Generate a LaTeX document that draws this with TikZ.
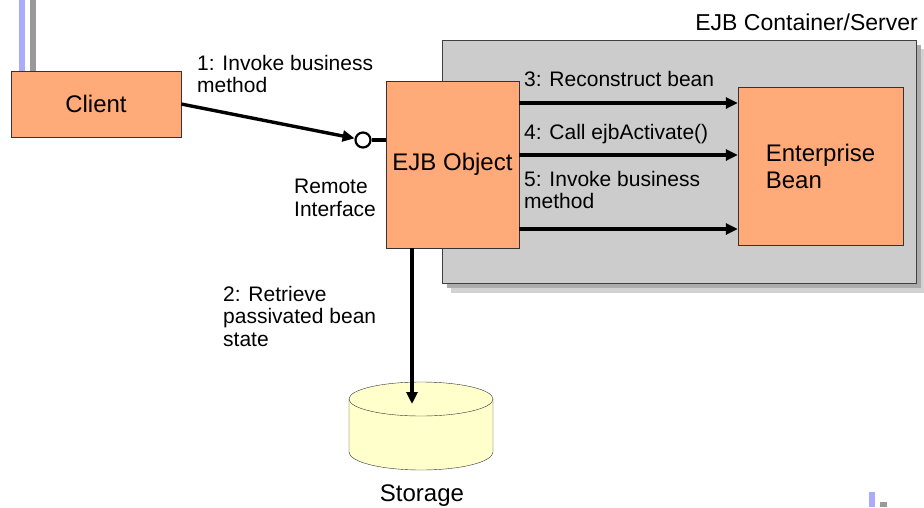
\documentclass[tikz,border=0pt]{standalone}
\usepackage{fontspec}
\setmainfont{Liberation Sans}
\usetikzlibrary{arrows.meta}
\definecolor{salmon}{RGB}{255,170,120}
\definecolor{cbox}{RGB}{204,204,204}
\definecolor{dbfill}{RGB}{255,255,204}
\definecolor{barblue}{RGB}{170,170,255}
\definecolor{bargray}{RGB}{153,153,153}
\tikzset{
  box/.style={draw=black!80,fill=salmon,font=\fontsize{24}{27}\selectfont,inner sep=0pt},
  lbl/.style={anchor=north west,inner sep=0pt,align=left,font=\fontsize{21}{22.5}\selectfont},
  arr/.style={line width=3.4pt,-{Triangle[length=12pt,width=11pt]}}
}
\begin{document}
\begin{tikzpicture}[x=1pt,y=-1pt]
            \useasboundingbox (0,0) rectangle (924,507);
            % slide marks
            \fill[barblue] (19,0) rectangle (25,71);
            \fill[bargray] (30,0) rectangle (36,71);
            \fill[barblue] (869,492) rectangle (875,507);
            \fill[bargray] (880,502) rectangle (887,507);
            % container with shadow
            \fill[gray!35] (451,49) rectangle (925,293);
            \fill[gray!65] (447,45) rectangle (921,288);
            \node[draw=black!75,fill=cbox,minimum width=474pt,minimum height=243pt,line width=1pt] (cont) at (679,161.5) {};
            \node[anchor=north east,inner sep=0pt,font=\fontsize{23}{26}\selectfont] (contlbl) at (918,14) {EJB Container/Server};
            % boxes
            \node[box,minimum width=170pt,minimum height=66pt] (client) at (96,104) {Client};
            \node[box,minimum width=133pt,minimum height=167pt] (ejbobj) at (452.5,164.5) {EJB Object};
            \node[box,minimum width=165pt,minimum height=158pt,align=left] (bean) at (820.5,166) {Enterprise\\Bean};
            % remote interface
            \node[circle,draw,fill=white,line width=2.2pt,minimum size=15pt,inner sep=0pt] (iface) at (363,140) {};
            \draw[line width=3.4pt] (iface) -- (iface -| ejbobj.west);
            \draw[arr] (client.east) -- (iface);
            % calls into the bean
            \draw[arr] (ejbobj.east |- 0,103) -- (bean.west |- 0,103);
            \draw[arr] (ejbobj.east |- 0,155) -- (bean.west |- 0,155);
            \draw[arr] (ejbobj.east |- 0,229) -- (bean.west |- 0,229);
            % storage
            \fill[dbfill] (349,399) -- (349,452) arc[start angle=180,end angle=0,x radius=72,y radius=18]
                -- (493,399) arc[start angle=0,end angle=-180,x radius=72,y radius=17] -- cycle;
            \draw[black!80] (349,399) -- (349,452) arc[start angle=180,end angle=0,x radius=72,y radius=18] -- (493,399);
            \draw[black!80] (421,399) ellipse [x radius=72,y radius=17];
            \coordinate (store) at (412,404);
            \draw[arr] (ejbobj.south -| store) -- (store);
            \node[anchor=base,inner sep=0pt,font=\fontsize{24}{27}\selectfont] (storlbl) at (422,501) {Storage};
            % labels
            \node[lbl] (l1) at (197,55) {1: Invoke business\\method};
            \node[lbl] (l2) at (223,286) {2: Retrieve\\passivated bean\\state};
            \node[lbl] (l3) at (524,71) {3: Reconstruct bean};
            \node[lbl] (l4) at (524,124) {4: Call ejbActivate()};
            \node[lbl] (l5) at (524,171) {5: Invoke business\\method};
            \node[lbl] (remote) at (294,179) {Remote\\Interface};
        \end{tikzpicture}
\end{document}
